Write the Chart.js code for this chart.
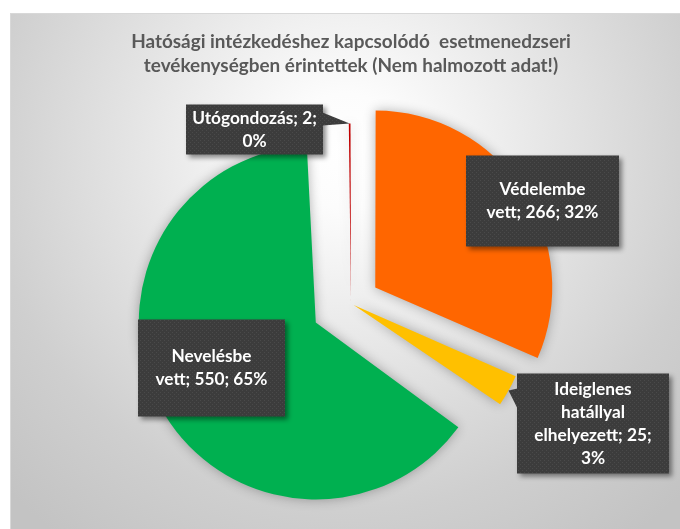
<!DOCTYPE html>
<html>
<head>
<meta charset="utf-8">
<script src="https://cdn.jsdelivr.net/npm/chart.js@4/dist/chart.umd.min.js"></script>
<style>
  html, body { margin: 0; padding: 0; background: #ffffff; }
  #wrap { position: absolute; left: 0; top: 0; width: 680px; height: 529px; overflow: hidden; background: #ffffff; }
  #panel {
    position: absolute; left: 10px; top: 13px; width: 680px; height: 530px;
    border-left: 1px solid #d8d8d8; border-top: 1px solid #d8d8d8;
    background: radial-gradient(circle 480px at 335px 137px, #ffffff 0%, #fcfcfc 12%, #e4e4e4 45%, #cfcfcf 75%, #c3c3c3 100%);
  }
  canvas { position: absolute; left: 0; top: 0; }
</style>
</head>
<body>
<div id="wrap">
  <div id="panel"></div>
  <canvas id="chart" width="680" height="529"></canvas>
</div>
<script>
// ---------------- data ----------------
const categories = ['Védelembe vett', 'Ideiglenes hatállyal elhelyezett', 'Nevelésbe vett', 'Utógondozás'];
const values = [266, 25, 550, 2];
const titleLines = ['Hatósági intézkedéshez kapcsolódó  esetmenedzseri', 'tevékenységben érintettek (Nem halmozott adat!)'];

// ---------------- style ----------------
const sliceColors = ['#FF6600', '#FFC000', '#00B050', '#C00000'];
const explodePx = [29, 3, 40, 3];          // visual explosion distance of each slice
const PIE_RADIUS = 177;
const OFFSET_DIV = 4;                      // Chart.js v4 arc translates by offset/4
const FONT = 'Lato, "Open Sans", sans-serif';
const labelStyle = [
  { dx: 191.5, dy: -102.5, w: 153, h: 91, wrap: 114 },
  { dx: 242, dy: 120, w: 152, h: 100, wrap: 124, pointer: { side: 'left', y0: -35, y1: -15 } },
  { dx: -139.5, dy: 64.5, w: 147, h: 97, wrap: 114 },
  { dx: -96.5, dy: -174, w: 137, h: 50, wrap: 133, pointer: { side: 'right', y0: -17, y1: -4 } }
];
const LABEL_LINE_H = 23;

function fitSize(text, target) {
  const c = document.createElement('canvas').getContext('2d');
  c.font = 'bold 100px ' + FONT;
  return 100 * target / c.measureText(text).width;
}
const total = values.reduce((a, b) => a + b, 0);
const pct = values.map(v => Math.round(v / total * 100));
const labelTexts = categories.map((c, i) => c + '; ' + values[i] + '; ' + pct[i] + '%');
const titleSize = fitSize(titleLines[0], 440);
const labelSize = fitSize('vett; ' + values[0] + '; ' + pct[0] + '%', 112);

// texture for label boxes
const pc = document.createElement('canvas');
pc.width = 4; pc.height = 4;
const pctx = pc.getContext('2d');
pctx.fillStyle = '#3c3c3c'; pctx.fillRect(0, 0, 4, 4);
pctx.fillStyle = '#4a4a4a'; pctx.fillRect(0, 0, 1, 1); pctx.fillRect(2, 2, 1, 1);

function wrapText(ctx, text, maxW) {
  const words = text.split(' ');
  const lines = [];
  let cur = '';
  for (const w of words) {
    const test = cur ? cur + ' ' + w : w;
    if (cur && ctx.measureText(test).width > maxW) { lines.push(cur); cur = w; }
    else cur = test;
  }
  if (cur) lines.push(cur);
  return lines;
}

const pieFx = {
  id: 'pieFx',
  afterDatasetUpdate(chart, args) {
    // keep every exploded slice at the same radius (as in the original)
    args.meta.data.forEach((arc, i) => {
      const off = explodePx[i];
      const circ = arc.endAngle - arc.startAngle;
      const fix = 1 - Math.sin(Math.min(Math.PI, circ || 0));
      arc.outerRadius = PIE_RADIUS - off * fix;
    });
  },
  beforeDatasetsDraw(chart) {
    const ctx = chart.ctx;
    ctx.save();
    ctx.shadowColor = 'rgba(0,0,0,0.30)';
    ctx.shadowBlur = 12;
    ctx.shadowOffsetX = 0;
    ctx.shadowOffsetY = 0;
  },
  afterDatasetsDraw(chart) {
    const ctx = chart.ctx;
    ctx.restore();
    const arcs = chart.getDatasetMeta(0).data;
    const pattern = ctx.createPattern(pc, 'repeat');
    arcs.forEach((arc, i) => {
      const s = labelStyle[i];
      const cx = arc.x, cy = arc.y;
      const bx = cx + s.dx - s.w / 2, by = cy + s.dy - s.h / 2;
      ctx.save();
      ctx.shadowColor = 'rgba(0,0,0,0.45)';
      ctx.shadowBlur = 5;
      ctx.shadowOffsetX = 3;
      ctx.shadowOffsetY = 3;
      ctx.fillStyle = pattern;
      ctx.beginPath();
      ctx.rect(bx, by, s.w, s.h);
      ctx.fill();
      if (s.pointer) {
        const mid = (arc.startAngle + arc.endAngle) / 2;
        const r = PIE_RADIUS + explodePx[i];
        const tx = cx + Math.cos(mid) * r, ty = cy + Math.sin(mid) * r;
        const ex = s.pointer.side === 'right' ? bx + s.w - 0.5 : bx + 0.5;
        ctx.shadowColor = 'rgba(0,0,0,0)';
        ctx.beginPath();
        ctx.moveTo(ex, cy + s.dy + s.pointer.y0);
        ctx.lineTo(tx, ty);
        ctx.lineTo(ex, cy + s.dy + s.pointer.y1);
        ctx.closePath();
        ctx.fill();
      }
      ctx.restore();
      ctx.save();
      ctx.font = 'bold ' + labelSize + 'px ' + FONT;
      ctx.fillStyle = '#ffffff';
      ctx.textAlign = 'center';
      ctx.textBaseline = 'middle';
      const lines = wrapText(ctx, labelTexts[i], s.wrap);
      const y0 = cy + s.dy - (lines.length - 1) * LABEL_LINE_H / 2;
      lines.forEach((ln, k) => ctx.fillText(ln, cx + s.dx, y0 + k * LABEL_LINE_H));
      ctx.restore();
    });
  }
};

new Chart(document.getElementById('chart'), {
  type: 'pie',
  data: {
    labels: categories,
    datasets: [{
      data: values,
      backgroundColor: sliceColors,
      borderWidth: 0,
      offset: explodePx.map(p => p * OFFSET_DIV),
      hoverOffset: 0
    }]
  },
  options: {
    responsive: false,
    animation: false,
    events: [],
    radius: PIE_RADIUS,
    layout: { padding: { left: 22, right: 0, top: 0, bottom: -7 } },
    plugins: {
      legend: { display: false },
      tooltip: { enabled: false },
      title: {
        display: true,
        text: titleLines,
        color: '#595959',
        font: { family: FONT, size: titleSize, weight: 'bold', lineHeight: '24px' },
        padding: { top: 30, bottom: 0 }
      }
    }
  },
  plugins: [pieFx]
});
</script>
</body>
</html>
